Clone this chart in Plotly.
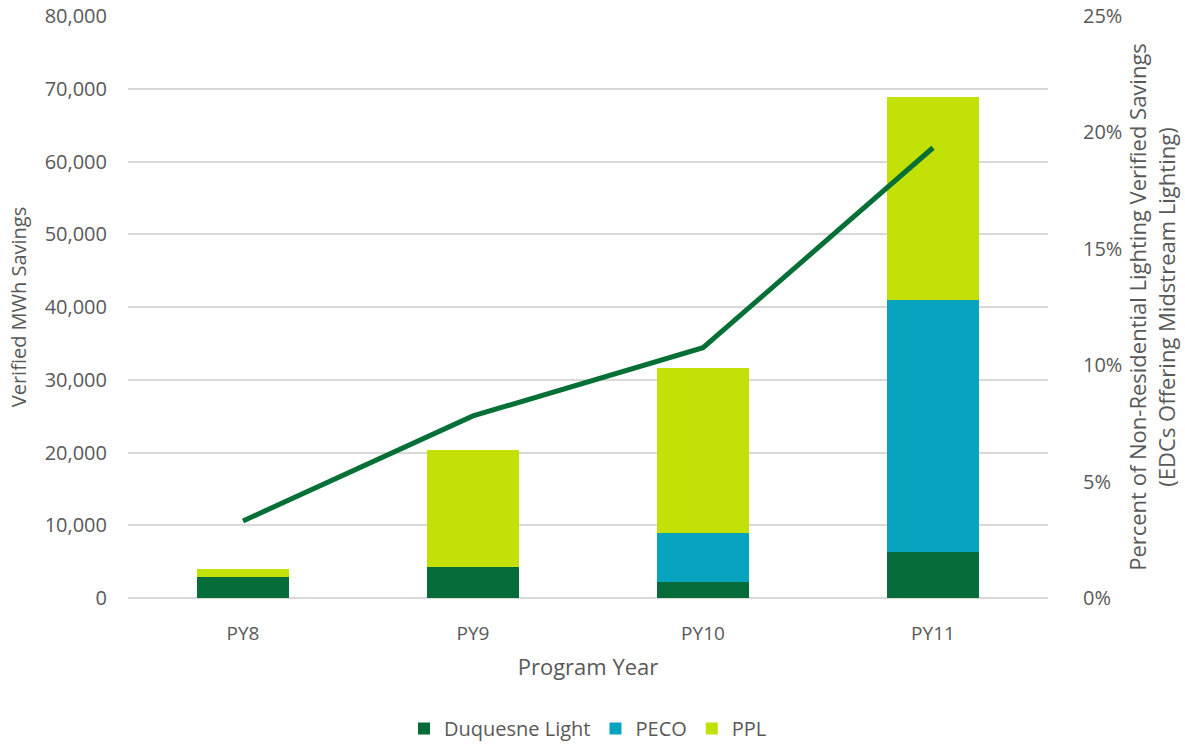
import plotly.graph_objects as go

# Program years and verified MWh savings per EDC
years = ["PY8", "PY9", "PY10", "PY11"]
duquesne = [2930, 4270, 2250, 6370]
peco = [0, 0, 6650, 34640]
ppl = [1060, 16100, 22650, 27800]
# Share of non-residential lighting verified savings (%)
pct_share = [3.31, 7.82, 10.75, 19.34]

FONT = "Open Sans, Noto Sans, sans-serif"
GRAY = "#595959"

fig = go.Figure()
fig.add_trace(go.Bar(x=years, y=duquesne, name="Duquesne Light",
                     marker=dict(color="#056B39", line=dict(width=0))))
fig.add_trace(go.Bar(x=years, y=peco, name="PECO",
                     marker=dict(color="#08A4BF", line=dict(width=0))))
fig.add_trace(go.Bar(x=years, y=ppl, name="PPL",
                     marker=dict(color="#C3E106", line=dict(width=0))))
fig.add_trace(go.Scatter(x=years, y=pct_share, yaxis="y2", mode="lines",
                         line=dict(color="#057035", width=5),
                         showlegend=False))

fig.update_layout(
    width=1185, height=748,
    barmode="stack", bargap=0.6,
    plot_bgcolor="white", paper_bgcolor="white",
    margin=dict(l=128, r=137, t=16, b=150, autoexpand=False),
    font=dict(family=FONT, color=GRAY, size=19),
    xaxis=dict(
        title=dict(text="Program Year", font=dict(size=22, color=GRAY), standoff=14),
        showgrid=False, showline=False, ticks="",
        tickfont=dict(size=19, color=GRAY), ticklabelstandoff=22,
        automargin=False,
    ),
    yaxis=dict(
        title=dict(text="Verified MWh Savings", font=dict(size=20, color=GRAY), standoff=12),
        range=[0, 80000], dtick=10000, tickformat=",",
        showgrid=True, gridcolor="#D9D9D9", gridwidth=1.5,
        zeroline=True, zerolinecolor="#D9D9D9", zerolinewidth=1.5,
        showline=False, ticks="", tickfont=dict(size=20, color=GRAY),
        ticklabelstandoff=20, automargin=False,
    ),
    yaxis2=dict(
        title=dict(text="Percent of Non-Residential Lighting Verified Savings<br>(EDCs Offering Midstream Lighting)",
                   font=dict(size=22, color=GRAY), standoff=9),
        overlaying="y", side="right",
        range=[0, 25], dtick=5, ticksuffix="%",
        showgrid=False, zeroline=False, showline=False, ticks="",
        tickfont=dict(size=20, color=GRAY),
        ticklabelstandoff=34, automargin=False,
    ),
    legend=dict(orientation="h", x=0.5, xanchor="center", y=0, yanchor="bottom",
                yref="container", font=dict(size=20, color=GRAY),
                traceorder="normal", itemwidth=30),
)

fig.write_html("out.html")
